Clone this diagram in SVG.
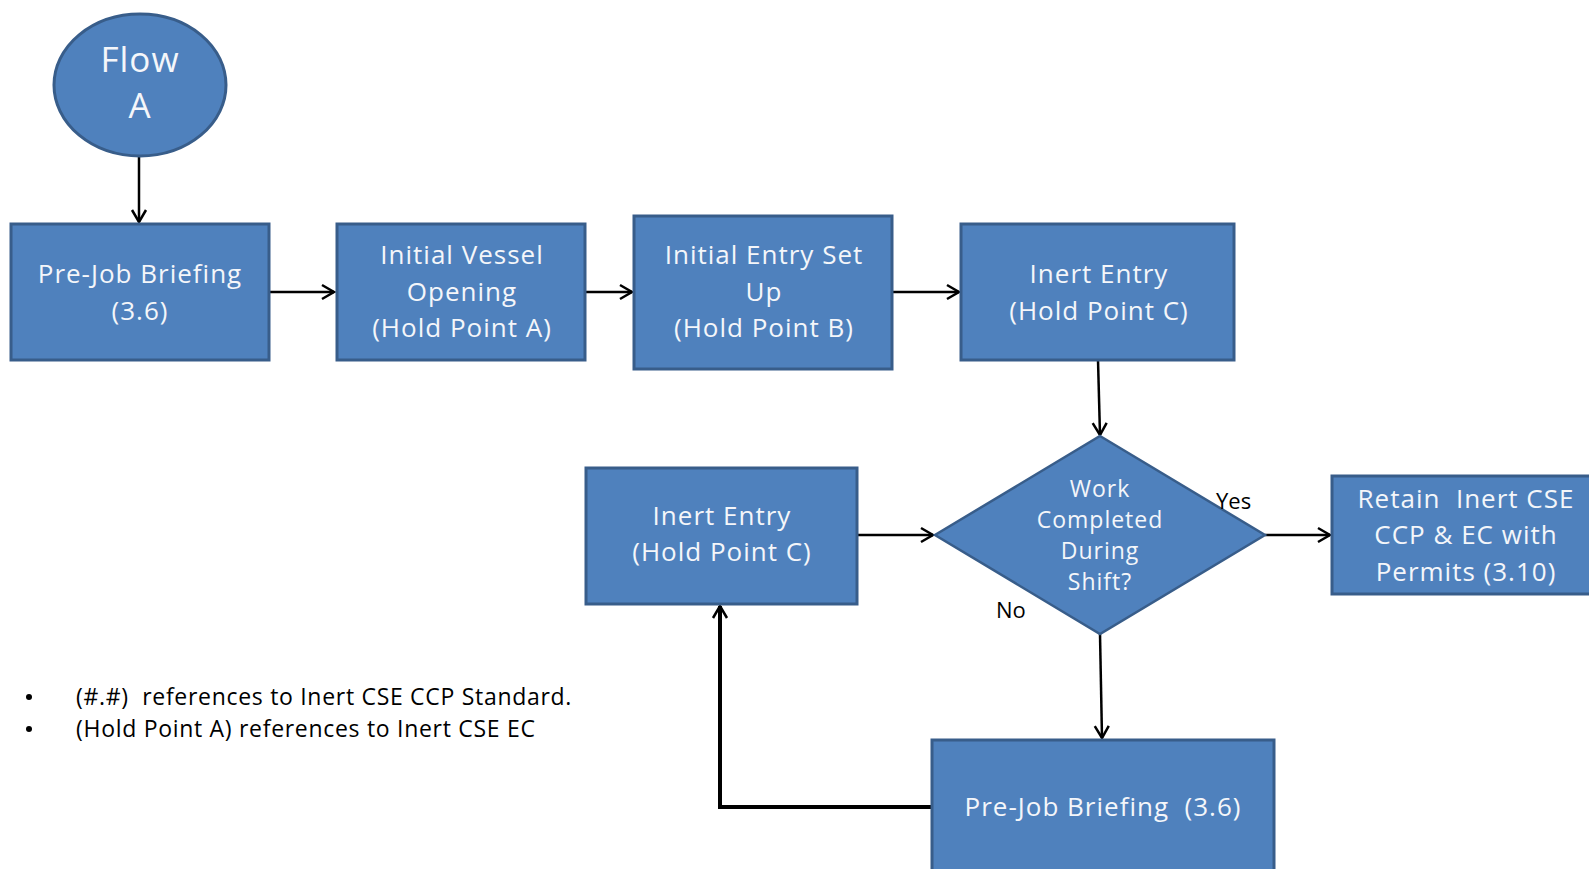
<svg xmlns="http://www.w3.org/2000/svg" width="1589" height="869" viewBox="0 0 1589 869">
<style>
.node{fill:#4F81BD;stroke:#385D8A;stroke-width:3}
.t{font-family:"Open Sans","Noto Sans",sans-serif;fill:#F4F6FA;text-anchor:middle;font-size:26px;letter-spacing:1px}
.td{font-family:"Open Sans","Noto Sans",sans-serif;fill:#F4F6FA;text-anchor:middle;font-size:23px;letter-spacing:1px}
.lbl{font-family:"Open Sans","Noto Sans",sans-serif;fill:#000;font-size:22px}
.leg{font-family:"Open Sans","Noto Sans",sans-serif;fill:#000;font-size:23px;letter-spacing:0.7px}
.edge{fill:none;stroke:#000;stroke-width:2.5}
</style>
<defs>
<marker id="arr" markerUnits="userSpaceOnUse" markerWidth="16" markerHeight="20" refX="13" refY="8" orient="auto" viewBox="0 0 16 16">
<path d="M1,1 L13,8 L1,15" fill="none" stroke="#000" stroke-width="2.5"/>
</marker>
</defs>
<rect width="1589" height="869" fill="#fff"/>
<g id="connectors">
<line class="edge" x1="139" y1="157" x2="139" y2="222" marker-end="url(#arr)"/>
<line class="edge" x1="269" y1="292" x2="334" y2="292" marker-end="url(#arr)"/>
<line class="edge" x1="585" y1="292" x2="632" y2="292" marker-end="url(#arr)"/>
<line class="edge" x1="892" y1="292" x2="959" y2="292" marker-end="url(#arr)"/>
<line class="edge" x1="1098" y1="360" x2="1100" y2="435" marker-end="url(#arr)"/>
<line class="edge" x1="857" y1="535" x2="933" y2="535" marker-end="url(#arr)"/>
<line class="edge" x1="1265" y1="535" x2="1330" y2="535" marker-end="url(#arr)"/>
<line class="edge" x1="1100" y1="634" x2="1102" y2="738" marker-end="url(#arr)"/>
<polyline class="edge" style="stroke-width:4" points="932,807 720,807 720,606" marker-end="url(#arr)"/>
</g>
<g id="flowA">
<ellipse cx="140" cy="85" rx="86" ry="71" class="node"/>
<text class="t" style="font-size:35px" x="140" y="72">Flow</text>
<text class="t" style="font-size:35px" x="140" y="118">A</text>
</g>
<g id="preJob1">
<rect class="node" x="11" y="224" width="258" height="136"/>
<text class="t" x="140" y="283">Pre-Job Briefing</text>
<text class="t" x="140" y="320">(3.6)</text>
</g>
<g id="vesselOpening">
<rect class="node" x="337" y="224" width="248" height="136"/>
<text class="t" x="462" y="264">Initial Vessel</text>
<text class="t" x="462" y="301">Opening</text>
<text class="t" x="462" y="337">(Hold Point A)</text>
</g>
<g id="entrySetUp">
<rect class="node" x="634" y="216" width="258" height="153"/>
<text class="t" x="764" y="264">Initial Entry Set</text>
<text class="t" x="764" y="301">Up</text>
<text class="t" x="764" y="337">(Hold Point B)</text>
</g>
<g id="inertEntry1">
<rect class="node" x="961" y="224" width="273" height="136"/>
<text class="t" x="1099" y="283">Inert Entry</text>
<text class="t" x="1099" y="320">(Hold Point C)</text>
</g>
<g id="decision">
<polygon class="node" style="stroke-width:2.5" points="1100,436 1265,535 1100,634 935,535"/>
<text class="td" x="1100" y="497">Work</text>
<text class="td" x="1100" y="528">Completed</text>
<text class="td" x="1100" y="559">During</text>
<text class="td" x="1100" y="590">Shift?</text>
</g>
<g id="inertEntry2">
<rect class="node" x="586" y="468" width="271" height="136"/>
<text class="t" x="722" y="525">Inert Entry</text>
<text class="t" x="722" y="561">(Hold Point C)</text>
</g>
<g id="retain">
<rect class="node" x="1332" y="476" width="270" height="118"/>
<text class="t" x="1466" y="508">Retain&#160; Inert CSE</text>
<text class="t" x="1466" y="544">CCP &amp; EC with</text>
<text class="t" x="1466" y="581">Permits (3.10)</text>
</g>
<g id="preJob2">
<rect class="node" x="932" y="740" width="342" height="140"/>
<text class="t" x="1103" y="816">Pre-Job Briefing&#160; (3.6)</text>
</g>
<g id="labels">
<text class="lbl" x="1216" y="509">Yes</text>
<text class="lbl" x="996" y="618">No</text>
</g>
<g id="legend">
<circle cx="29" cy="697" r="3" fill="#000"/>
<circle cx="29" cy="729" r="3" fill="#000"/>
<text class="leg" x="76" y="705">(#.#)&#160; references to Inert CSE CCP Standard.</text>
<text class="leg" x="76" y="737">(Hold Point A) references to Inert CSE EC</text>
</g>
</svg>
